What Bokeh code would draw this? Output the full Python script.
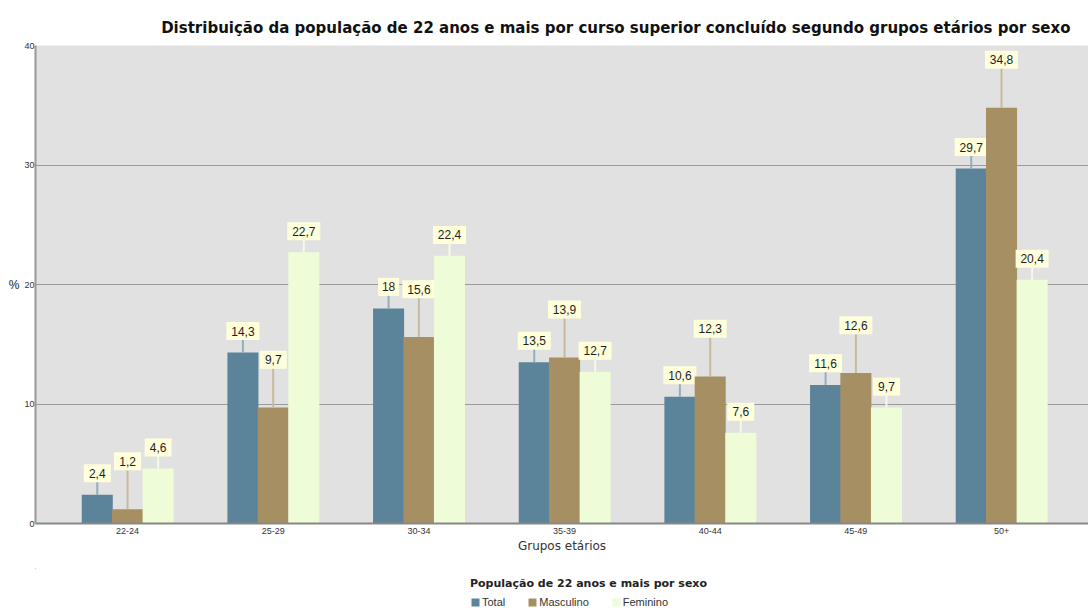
from bokeh.plotting import figure
from bokeh.models import ColumnDataSource, Range1d, Legend, LegendItem
from bokeh.layouts import column
from bokeh.transform import dodge
from bokeh.core.properties import value
from bokeh.embed import file_html
from bokeh.resources import INLINE

# ---- data ----
categories = ["22-24", "25-29", "30-34", "35-39", "40-44", "45-49", "50+"]
total = [2.4, 14.3, 18, 13.5, 10.6, 11.6, 29.7]
masculino = [1.2, 9.7, 15.6, 13.9, 12.3, 12.6, 34.8]
feminino = [4.6, 22.7, 22.4, 12.7, 7.6, 9.7, 20.4]
series_names = ["Total", "Masculino", "Feminino"]
y_ticks = [0, 10, 20, 30, 40]

title = "Distribuição da população de 22 anos e mais por curso superior concluído segundo grupos etários por sexo"
x_title = "Grupos etários"
y_title = "%"
legend_title = "População de 22 anos e mais por sexo"

# ---- styles ----
colors = ["#5b8399", "#a68f62", "#effcd8"]
lead_colors = ["#93aebf", "#c9b99c", "#f3fbe6"]
bar_offsets = [-0.208, 0.0, 0.21]
label_lift = [1.8, 4.0, 1.75]   # label position above bar, in data units
FONT = "Liberation Sans"
WIDE = "DejaVu Sans"

p = figure(width=1088, height=568,
           x_range=Range1d(-0.632, 6.597), y_range=Range1d(0, 40),
           output_backend="svg", toolbar_location=None,
           min_border_left=35, min_border_right=0, min_border_top=45, min_border_bottom=45,
           background_fill_color="#e1e1e1", border_fill_color="white",
           outline_line_color=None)

idx = list(range(len(categories)))
series = [total, masculino, feminino]
sources = []
for k, vals in enumerate(series):
    labels = [("%g" % v).replace(".", ",") for v in vals]
    src = ColumnDataSource(dict(
        x=idx, v=vals,
        top_lab=[v + label_lift[k] for v in vals],
        lab=labels,
        w=[6 * len(s) + 9 for s in labels],
    ))
    sources.append(src)
    p.vbar(x=dodge("x", bar_offsets[k]), top="v", bottom=0, width=0.213,
           source=src, fill_color=colors[k], line_color=None)
    p.segment(x0=dodge("x", bar_offsets[k]), y0="v", x1=dodge("x", bar_offsets[k]), y1="top_lab",
              source=src, line_color=lead_colors[k], line_width=2)
    p.rect(x=dodge("x", bar_offsets[k]), y="top_lab", width="w", height=18,
           width_units="screen", height_units="screen", source=src,
           fill_color="#ffffdc", line_color=None)
    p.text(x=dodge("x", bar_offsets[k]), y="top_lab", text="lab", source=src,
           text_align="center", text_baseline="middle", text_font_size="12px",
           text_color="#1e1e1e", text_font=value(FONT))

# grid
p.xgrid.grid_line_color = None
p.ygrid.ticker = y_ticks
p.ygrid.grid_line_color = "#9a9a9a"
p.ygrid.grid_line_width = 1

# axes
p.yaxis.ticker = y_ticks
p.yaxis.axis_label = y_title
p.yaxis.axis_label_orientation = "horizontal"
p.yaxis.axis_label_standoff = 2
p.yaxis.axis_label_text_font_style = "normal"
p.yaxis.axis_label_text_font_size = "12px"
p.yaxis.axis_label_text_font = FONT
p.yaxis.axis_label_text_color = "#222222"
p.yaxis.major_label_text_font_size = "9px"
p.yaxis.major_label_text_font = FONT
p.yaxis.major_label_text_color = "#333333"
p.yaxis.major_label_standoff = 1
p.yaxis.major_tick_out = 0
p.yaxis.major_tick_in = 0
p.yaxis.major_tick_line_color = None
p.yaxis.minor_tick_line_color = None
p.yaxis.axis_line_color = "#999999"
p.yaxis.axis_line_width = 2

p.xaxis.ticker = idx
p.xaxis.major_label_overrides = {i: c for i, c in enumerate(categories)}
p.xaxis.axis_label = x_title
p.xaxis.axis_label_standoff = 2
p.xaxis.axis_label_text_font_style = "normal"
p.xaxis.axis_label_text_font_size = "12px"
p.xaxis.axis_label_text_font = WIDE
p.xaxis.axis_label_text_color = "#333333"
p.xaxis.major_label_text_font_size = "9px"
p.xaxis.major_label_text_font = FONT
p.xaxis.major_label_text_color = "#333333"
p.xaxis.major_label_standoff = 4
p.xaxis.major_tick_out = 0
p.xaxis.major_tick_in = 0
p.xaxis.major_tick_line_color = None
p.xaxis.minor_tick_line_color = None
p.xaxis.axis_line_color = "#888888"
p.xaxis.axis_line_width = 2

# title
p.title.text = title
p.title.text_font = WIDE
p.title.text_font_size = "15px"
p.title.text_font_style = "bold"
p.title.text_color = "#111111"
p.title.align = "right"
p.title.offset = 18
p.title.standoff = 17

# legend strip below the chart; its glyphs are the same series, kept far outside the strip's ranges
lg = figure(width=1088, height=40, output_backend="svg", toolbar_location=None,
            x_axis_type=None, y_axis_type=None,
            x_range=Range1d(100, 101), y_range=Range1d(-200, -100),
            min_border_left=35, min_border_right=0, min_border_top=0, min_border_bottom=0,
            outline_line_color=None, background_fill_color="white", border_fill_color="white")
lg.xgrid.grid_line_color = None
lg.ygrid.grid_line_color = None
proxies = [lg.vbar(x="x", top="v", bottom=0, width=0.2, source=s, fill_color=c, line_color=None)
           for s, c in zip(sources, colors)]
legend = Legend(items=[LegendItem(label=n, renderers=[r]) for n, r in zip(series_names, proxies)],
                orientation="horizontal", location=(435, 0),
                title=legend_title, title_text_font_style="bold", title_text_font_size="11px",
                title_text_font=WIDE, title_text_color="#222222", title_standoff=6,
                label_text_font_size="11px", label_text_font=FONT, label_text_color="#333333",
                glyph_width=10, glyph_height=10, label_height=12, label_standoff=2,
                spacing=22, padding=0, margin=0,
                border_line_color=None, background_fill_alpha=0)
lg.add_layout(legend, "center")

layout = column(p, lg, spacing=0)
open("out.html", "w").write(file_html(layout, INLINE))
